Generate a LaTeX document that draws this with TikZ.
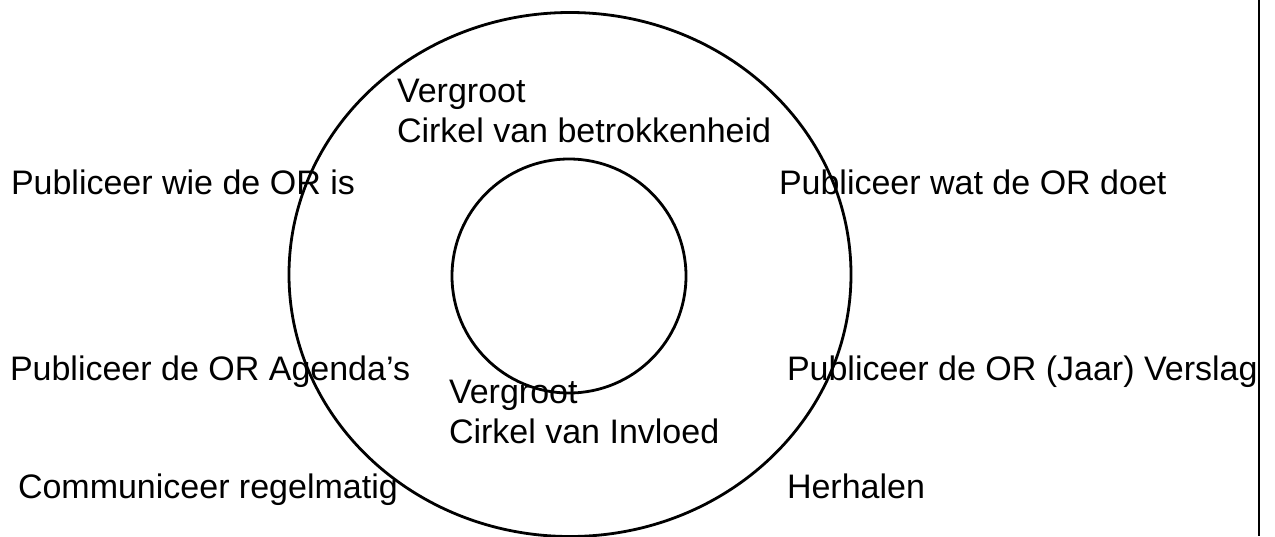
\documentclass[tikz,border=0pt]{standalone}
\usepackage{fontspec}
\setmainfont{Liberation Sans}
\begin{document}
\begin{tikzpicture}[x=1pt,y=1pt,
  lbl/.style={anchor=base west,inner sep=0pt,outer sep=0pt,font=\fontsize{34}{41}\selectfont},
  ring/.style={line width=2.8pt,draw=black}]
\useasboundingbox (0,0) rectangle (1275,-536);
% circles
\draw[ring] (570,-274.5) ellipse [x radius=281,y radius=262];
\draw[ring] (569,-276) circle [radius=117];
% right border line
\draw[line width=2.4pt] (1259,0) -- (1259,-536);
% labels
\node[lbl] (t1) at (397,-102) {Vergroot};
\node[lbl] (t2) at (397,-142) {Cirkel van betrokkenheid};
\node[lbl] (l1) at (11,-194) {Publiceer wie de OR is};
\node[lbl] (r1) at (779,-194) {Publiceer wat de OR doet};
\node[lbl] (l2) at (10,-380) {Publiceer de OR Agenda’s};
\begin{scope}
  \clip (700,0) rectangle (1257.5,-536);
  \node[lbl] (r2) at (787,-380) {Publiceer de OR (Jaar) Verslagen};
\end{scope}
\node[lbl] (b1) at (449,-403) {Vergroot};
\node[lbl] (b2) at (449,-443) {Cirkel van Invloed};
\node[lbl] (l3) at (18,-498) {Communiceer regelmatig};
\node[lbl] (r3) at (787,-498) {Herhalen};
\end{tikzpicture}
\end{document}
